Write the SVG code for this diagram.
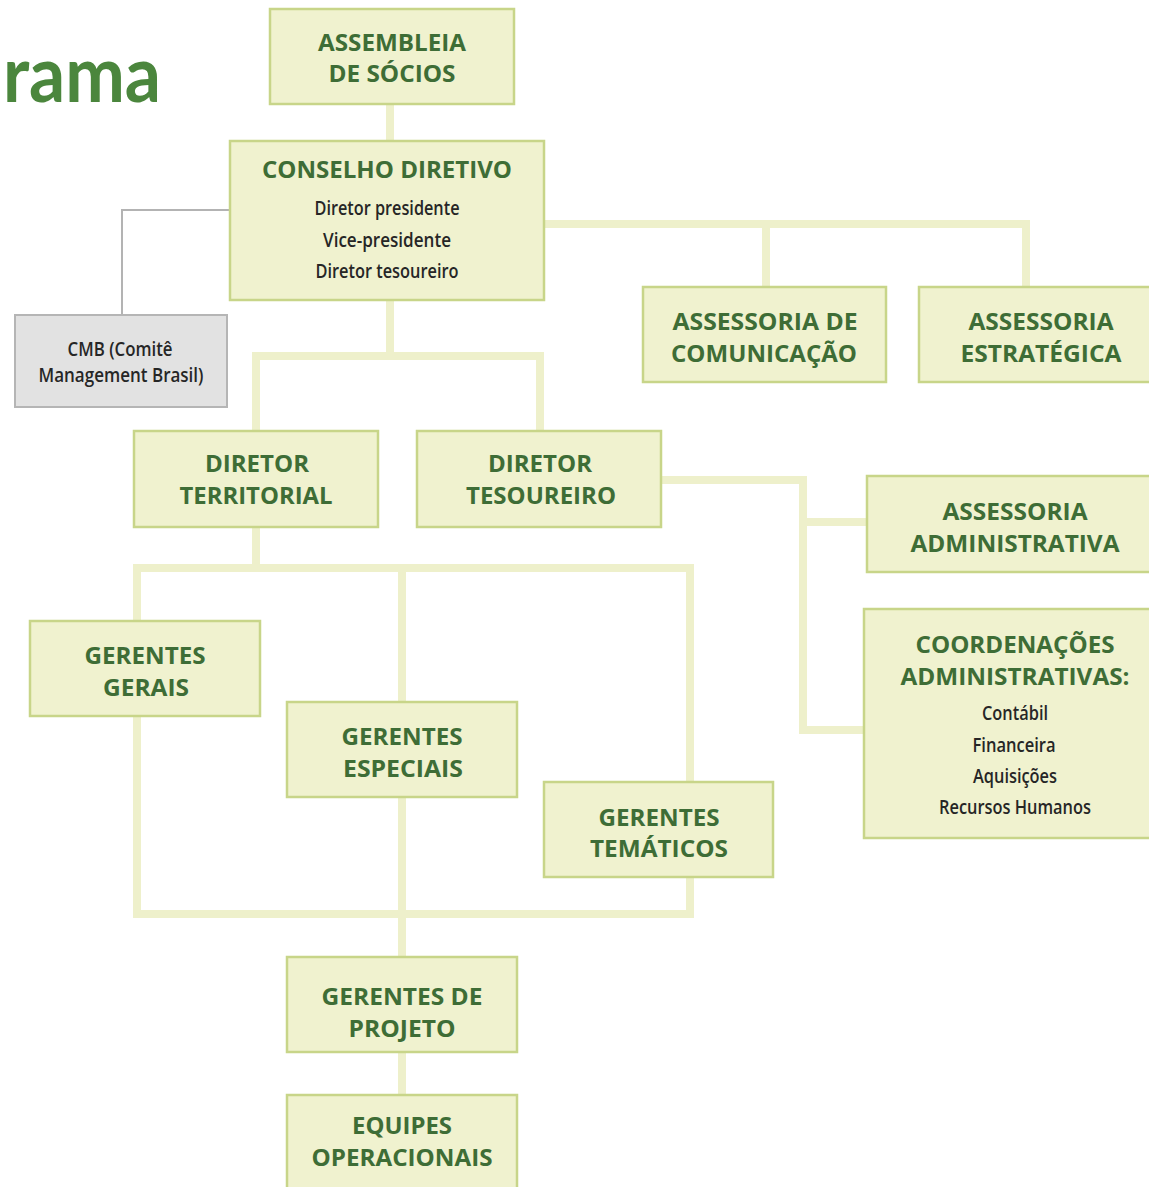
<svg xmlns="http://www.w3.org/2000/svg" width="1149" height="1187" viewBox="0 0 1149 1187">
<style>
.box{fill:#f0f2cf;stroke:#c8d589;stroke-width:2.5}
.gray{fill:#e2e2e2;stroke:#b5b5b5;stroke-width:2}
.h{font-family:"Open Sans","Noto Sans",sans-serif;font-weight:700;font-size:24px;fill:#3e6d36;text-anchor:middle}
.s{font-family:"Open Sans","Noto Sans",sans-serif;font-weight:600;font-size:20px;fill:#262626;text-anchor:middle}
.c{fill:none;stroke:#eef0cb;stroke-width:8}
.g{fill:none;stroke:#b3b3b3;stroke-width:2}
.t{font-family:"Lato","Noto Sans",sans-serif;font-weight:700;font-size:78px;fill:#4b863d}
</style>
<rect width="1149" height="1187" fill="#ffffff"/>
<text class="t" x="3" y="102" textLength="158" lengthAdjust="spacingAndGlyphs">rama</text>
<g id="connectors">
<path class="c" d="M390 104V141"/>
<path class="c" d="M544 224H1026V287M766 224V287"/>
<path class="c" d="M390 300V356M256 431V356H540V431"/>
<path class="c" d="M661 480H803V730H864M803 522H867"/>
<path class="c" d="M256 527V568M137 621V568H690V782M402 568V702"/>
<path class="c" d="M137 716V914H690V877M402 797V957"/>
<path class="c" d="M402 1052V1095"/>
<path class="g" d="M230 210H122V315"/>
</g>
<g id="assembleia"><rect class="box" x="270" y="9" width="244" height="95"/>
<text class="h" x="392" y="51" textLength="148" lengthAdjust="spacingAndGlyphs">ASSEMBLEIA</text>
<text class="h" x="392" y="82" textLength="127" lengthAdjust="spacingAndGlyphs">DE SÓCIOS</text></g>
<g id="conselho"><rect class="box" x="230" y="141" width="314" height="159"/>
<text class="h" x="387" y="178" textLength="250" lengthAdjust="spacingAndGlyphs">CONSELHO DIRETIVO</text>
<text class="s" x="387" y="215" textLength="145" lengthAdjust="spacingAndGlyphs">Diretor presidente</text>
<text class="s" x="387" y="247" textLength="128" lengthAdjust="spacingAndGlyphs">Vice-presidente</text>
<text class="s" x="387" y="278" textLength="143" lengthAdjust="spacingAndGlyphs">Diretor tesoureiro</text></g>
<g id="cmb"><rect class="gray" x="15" y="315" width="212" height="92"/>
<text class="s" x="120" y="356" font-size="19" textLength="105" lengthAdjust="spacingAndGlyphs">CMB (Comitê</text>
<text class="s" x="121" y="382" font-size="19" textLength="165" lengthAdjust="spacingAndGlyphs">Management Brasil)</text></g>
<g id="comunicacao"><rect class="box" x="643" y="287" width="243" height="95"/>
<text class="h" x="765" y="330" textLength="185" lengthAdjust="spacingAndGlyphs">ASSESSORIA DE</text>
<text class="h" x="764" y="362" textLength="186" lengthAdjust="spacingAndGlyphs">COMUNICAÇÃO</text></g>
<g id="estrategica"><rect class="box" x="919" y="287" width="240" height="95"/>
<text class="h" x="1041" y="330" textLength="145" lengthAdjust="spacingAndGlyphs">ASSESSORIA</text>
<text class="h" x="1041" y="362" textLength="161" lengthAdjust="spacingAndGlyphs">ESTRATÉGICA</text></g>
<g id="territorial"><rect class="box" x="134" y="431" width="244" height="96"/>
<text class="h" x="257" y="472" textLength="104" lengthAdjust="spacingAndGlyphs">DIRETOR</text>
<text class="h" x="256" y="504" textLength="153" lengthAdjust="spacingAndGlyphs">TERRITORIAL</text></g>
<g id="tesoureiro"><rect class="box" x="417" y="431" width="244" height="96"/>
<text class="h" x="540" y="472" textLength="104" lengthAdjust="spacingAndGlyphs">DIRETOR</text>
<text class="h" x="541" y="504" textLength="150" lengthAdjust="spacingAndGlyphs">TESOUREIRO</text></g>
<g id="administrativa"><rect class="box" x="867" y="476" width="292" height="96"/>
<text class="h" x="1015" y="520" textLength="145" lengthAdjust="spacingAndGlyphs">ASSESSORIA</text>
<text class="h" x="1015" y="552" textLength="209" lengthAdjust="spacingAndGlyphs">ADMINISTRATIVA</text></g>
<g id="coordenacoes"><rect class="box" x="864" y="609" width="295" height="229"/>
<text class="h" x="1015" y="653" textLength="199" lengthAdjust="spacingAndGlyphs">COORDENAÇÕES</text>
<text class="h" x="1015" y="685" textLength="229" lengthAdjust="spacingAndGlyphs">ADMINISTRATIVAS:</text>
<text class="s" x="1015" y="720" textLength="66" lengthAdjust="spacingAndGlyphs">Contábil</text>
<text class="s" x="1014" y="752" textLength="83" lengthAdjust="spacingAndGlyphs">Financeira</text>
<text class="s" x="1015" y="783" textLength="84" lengthAdjust="spacingAndGlyphs">Aquisições</text>
<text class="s" x="1015" y="814" textLength="152" lengthAdjust="spacingAndGlyphs">Recursos Humanos</text></g>
<g id="gerais"><rect class="box" x="30" y="621" width="230" height="95"/>
<text class="h" x="145" y="664" textLength="121" lengthAdjust="spacingAndGlyphs">GERENTES</text>
<text class="h" x="146" y="696" textLength="86" lengthAdjust="spacingAndGlyphs">GERAIS</text></g>
<g id="especiais"><rect class="box" x="287" y="702" width="230" height="95"/>
<text class="h" x="402" y="745" textLength="121" lengthAdjust="spacingAndGlyphs">GERENTES</text>
<text class="h" x="403" y="777" textLength="120" lengthAdjust="spacingAndGlyphs">ESPECIAIS</text></g>
<g id="tematicos"><rect class="box" x="544" y="782" width="229" height="95"/>
<text class="h" x="659" y="826" textLength="121" lengthAdjust="spacingAndGlyphs">GERENTES</text>
<text class="h" x="659" y="857" textLength="138" lengthAdjust="spacingAndGlyphs">TEMÁTICOS</text></g>
<g id="projeto"><rect class="box" x="287" y="957" width="230" height="95"/>
<text class="h" x="402" y="1005" textLength="161" lengthAdjust="spacingAndGlyphs">GERENTES DE</text>
<text class="h" x="402" y="1037" textLength="107" lengthAdjust="spacingAndGlyphs">PROJETO</text></g>
<g id="equipes"><rect class="box" x="287" y="1095" width="230" height="100"/>
<text class="h" x="402" y="1134" textLength="100" lengthAdjust="spacingAndGlyphs">EQUIPES</text>
<text class="h" x="402" y="1166" textLength="181" lengthAdjust="spacingAndGlyphs">OPERACIONAIS</text></g>
</svg>
